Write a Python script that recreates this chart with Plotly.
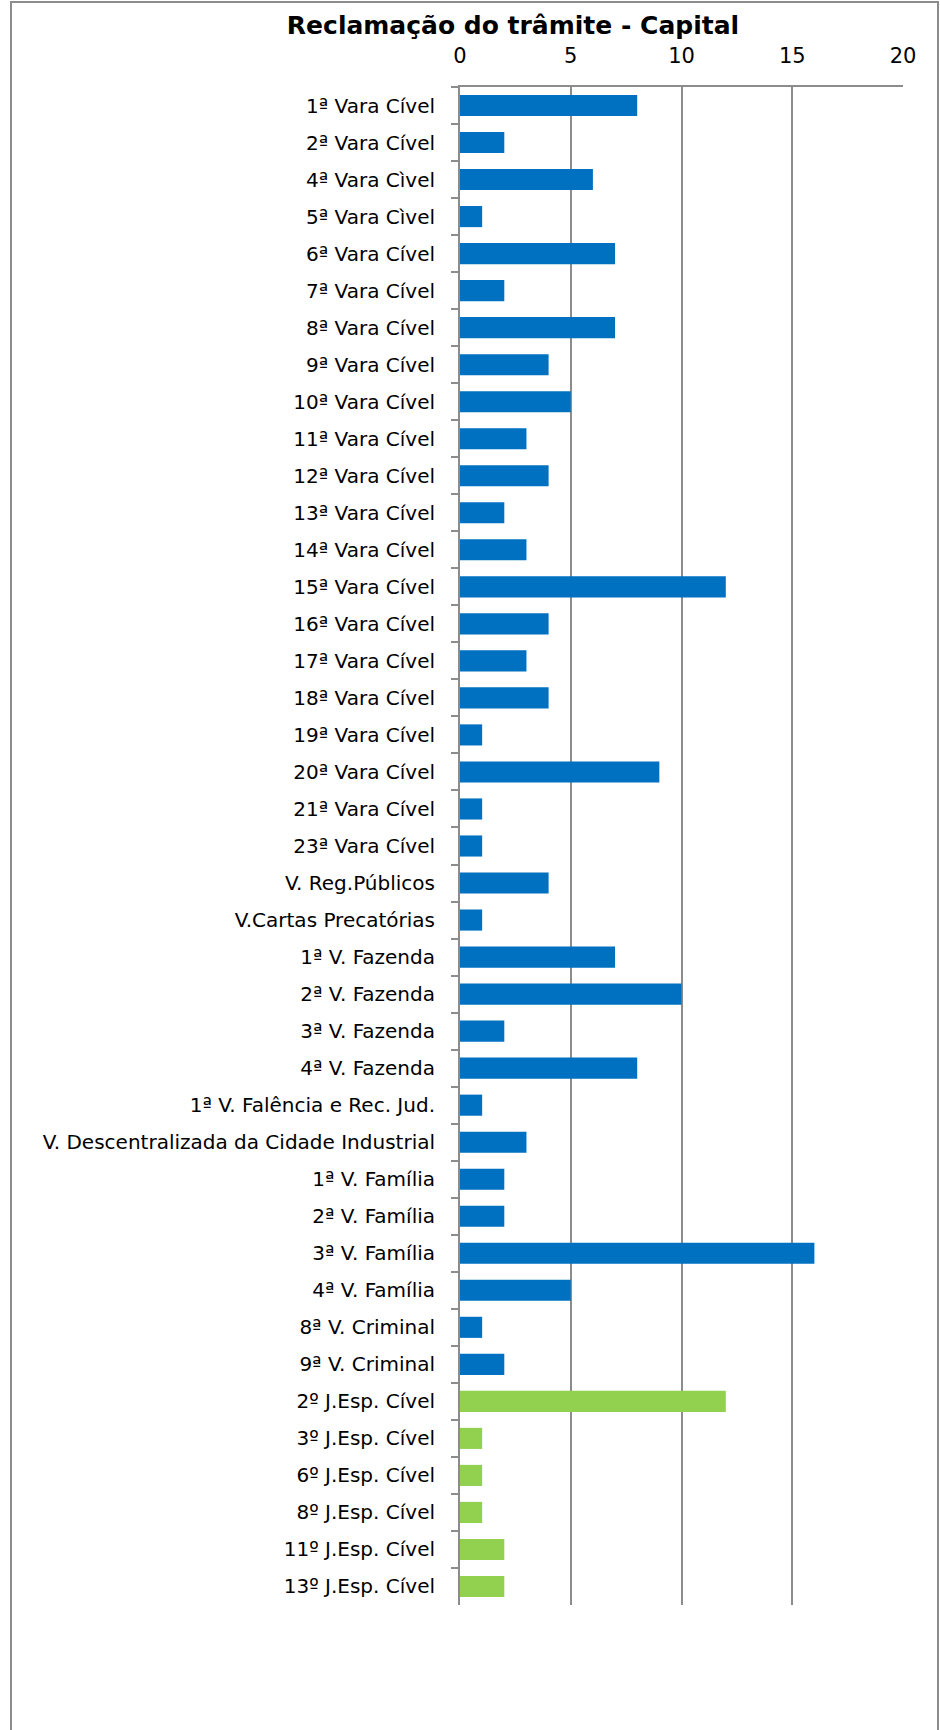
import plotly.graph_objects as go

categories = [
    "1ª Vara Cível", "2ª Vara Cível", "4ª Vara Cìvel", "5ª Vara Cìvel", "6ª Vara Cível",
    "7ª Vara Cível", "8ª Vara Cível", "9ª Vara Cível", "10ª Vara Cível", "11ª Vara Cível",
    "12ª Vara Cível", "13ª Vara Cível", "14ª Vara Cível", "15ª Vara Cível", "16ª Vara Cível",
    "17ª Vara Cível", "18ª Vara Cível", "19ª Vara Cível", "20ª Vara Cível", "21ª Vara Cível",
    "23ª Vara Cível", "V. Reg.Públicos", "V.Cartas Precatórias", "1ª V. Fazenda", "2ª V. Fazenda",
    "3ª V. Fazenda", "4ª V. Fazenda", "1ª V. Falência e Rec. Jud.",
    "V. Descentralizada da Cidade Industrial", "1ª V. Família", "2ª V. Família", "3ª V. Família",
    "4ª V. Família", "8ª V. Criminal", "9ª V. Criminal",
    "2º J.Esp. Cível", "3º J.Esp. Cível", "6º J.Esp. Cível", "8º J.Esp. Cível",
    "11º J.Esp. Cível", "13º J.Esp. Cível",
]
values = [
    8, 2, 6, 1, 7, 2, 7, 4, 5, 3, 4, 2, 3, 12, 4, 3, 4, 1, 9, 1, 1, 4, 1, 7, 10, 2, 8, 1, 3,
    2, 2, 16, 5, 1, 2,
    12, 1, 1, 1, 2, 2,
]
groups = ["vara"] * 35 + ["jesp"] * 6
group_colors = {"vara": "#0070C0", "jesp": "#92D050"}
x_ticks = [0, 5, 10, 15, 20]
title_text = "Reclamação do trâmite - Capital"

W, H = 940, 1730
ML, MR, MT, MB = 460, 37, 87, 125

fig = go.Figure(
    go.Bar(
        x=values,
        y=categories,
        orientation="h",
        marker=dict(color=[group_colors[g] for g in groups], line=dict(width=0)),
        width=0.57,
        hoverinfo="x+y",
    )
)

FONT = "DejaVu Sans"
fig.update_layout(
    width=W,
    height=H,
    margin=dict(l=ML, r=MR, t=MT, b=MB, autoexpand=False),
    paper_bgcolor="white",
    plot_bgcolor="white",
    showlegend=False,
    title=dict(
        text="<b>" + title_text + "</b>",
        font=dict(family=FONT, size=25, color="black"),
        x=513 / W,
        xanchor="center",
        y=1 - 25 / H,
        yanchor="middle",
    ),
    xaxis=dict(
        side="top",
        range=[0, 20],
        tickvals=x_ticks,
        showgrid=True,
        gridcolor="#8C8C8C",
        gridwidth=2,
        showline=True,
        linecolor="#8C8C8C",
        linewidth=2,
        mirror=False,
        ticks="",
        ticklabelstandoff=14,
        tickfont=dict(family=FONT, size=21, color="black"),
        zeroline=False,
        fixedrange=True,
    ),
    yaxis=dict(
        autorange="reversed",
        categoryorder="array",
        categoryarray=categories,
        showline=True,
        linecolor="#8C8C8C",
        linewidth=2,
        ticks="outside",
        ticklen=7,
        tickwidth=2,
        tickcolor="#8C8C8C",
        tickson="boundaries",
        ticklabelstandoff=19,
        showgrid=False,
        tickfont=dict(family=FONT, size=20, color="black"),
        fixedrange=True,
    ),
)

# outer chart border
pw = W - ML - MR
ph = H - MT - MB
def px_to_paper_x(px):
    return (px - ML) / pw
def px_to_paper_y(py):
    return (H - MB - py) / ph

fig.add_shape(
    type="rect",
    xref="paper", yref="paper",
    x0=px_to_paper_x(11), x1=px_to_paper_x(938),
    y0=px_to_paper_y(1735), y1=px_to_paper_y(2),
    line=dict(color="#8C8C8C", width=2),
    fillcolor="rgba(0,0,0,0)",
    layer="below",
)

fig.write_html("out.html")
